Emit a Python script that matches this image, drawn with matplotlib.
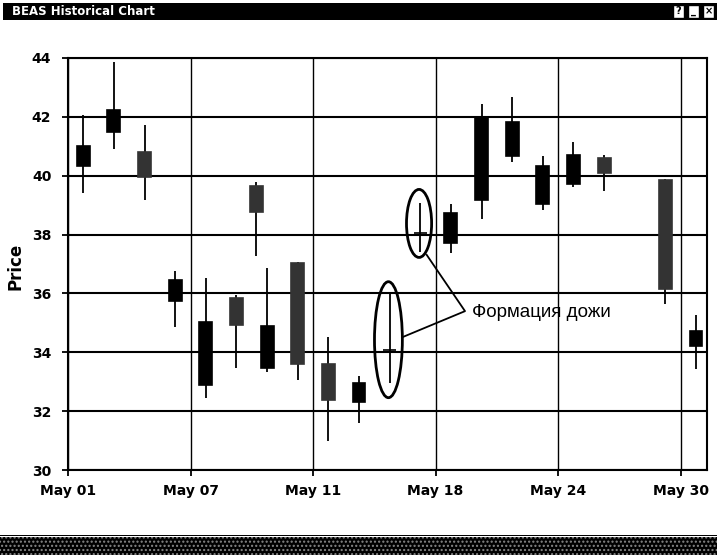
import matplotlib.pyplot as plt
from matplotlib.patches import Ellipse, Rectangle

# trading-day slot of each candle (category axis, 4 slots between labels)
slots = [0, 1, 2, 3, 4, 5, 5.64, 6, 7, 8, 9, 10, 11, 12, 13, 14, 15, 16, 17, 19, 20]
opens = [41.00, 42.24, 39.95, 36.45, 35.03, 34.92, 38.76, 34.89, 33.60, 32.37, 32.95,
         34.08, 38.04, 38.72, 41.95, 41.84, 40.33, 40.70, 40.10, 36.14, 34.72]
closes = [40.32, 41.47, 40.82, 35.76, 32.89, 35.85, 39.64, 33.48, 37.04, 33.60, 32.30,
          34.08, 38.04, 37.72, 39.18, 40.68, 39.03, 39.71, 40.59, 39.85, 34.21]
highs = [42.05, 43.87, 41.73, 36.76, 36.53, 35.95, 39.80, 36.87, 37.07, 34.51, 33.20,
         35.97, 39.06, 39.04, 42.44, 42.69, 40.67, 41.16, 40.70, 39.88, 35.27]
lows = [39.40, 40.90, 39.19, 34.86, 32.46, 33.48, 37.29, 33.33, 33.05, 31.00, 31.59,
        32.97, 37.42, 37.38, 38.52, 40.48, 38.84, 39.63, 39.49, 35.64, 33.42]

tick_slots = [0, 4, 8, 12, 16, 20]
tick_labels = ["May 01", "May 07", "May 11", "May 18", "May 24", "May 30"]
y_ticks = [30, 32, 34, 36, 38, 40, 42, 44]

fig = plt.figure(figsize=(7.17, 5.55), dpi=100)
ax = fig.add_axes([0.0948, 0.153, 0.8913, 0.7425])

xs = [s + 0.5 for s in slots]
ax.vlines(xs, lows, highs, color="black", linewidth=1.3, zorder=3)
for x, o, c in zip(xs, opens, closes):
    col = "#333333" if c > o else "black"
    ax.bar(x, max(abs(c - o), 0.001), bottom=min(o, c), width=0.42,
           color=col, edgecolor=col, linewidth=1.2, zorder=4)

ax.set_xlim(0, 20.86)
ax.set_ylim(30, 44)
ax.set_yticks(y_ticks)
ax.set_yticklabels([str(v) for v in y_ticks], fontweight="bold", fontsize=10)
ax.set_xticks(tick_slots)
ax.set_xticklabels(tick_labels, fontweight="bold", fontsize=10)
ax.tick_params(axis="both", direction="out", length=4, width=1.3, color="black")
ax.tick_params(axis="y", pad=8)
ax.tick_params(axis="x", pad=6)
ax.set_ylabel("Price", fontweight="bold", fontsize=12)
ax.yaxis.set_label_coords(-0.068, 0.495)

for y in y_ticks:
    ax.axhline(y, color="black", linewidth=1.5, zorder=1)
for x in tick_slots:
    ax.axvline(x, color="black", linewidth=1.0, zorder=1)
for sp in ax.spines.values():
    sp.set_linewidth(1.5)

# annotation of the two doji candles
ax.add_patch(Ellipse((10.46, 34.43), 0.91, 3.94, fill=False, edgecolor="black", linewidth=2, zorder=5))
ax.add_patch(Ellipse((11.46, 38.38), 0.82, 2.31, fill=False, edgecolor="black", linewidth=2, zorder=5))
ax.plot([11.71, 12.96, 10.95], [37.31, 35.40, 34.53], color="black", linewidth=1.3, zorder=5)
ax.text(13.2, 35.37, "Формация дожи", fontsize=13.5, va="center", ha="left",
        family=["Liberation Sans", "DejaVu Sans"], zorder=6)

# window title bar and status bar
fig.patches.append(Rectangle((0.004, 1 - 20 / 555), 0.996, 17 / 555, transform=fig.transFigure,
                             facecolor="black", edgecolor="none"))
fig.text(0.017, 1 - 11.5 / 555, "BEAS Historical Chart", color="white", fontweight="bold",
         fontsize=8.5, va="center", ha="left")
for i, ch in enumerate(["?", "_", "×"]):
    fig.patches.append(Rectangle(((673 + i * 15) / 717, 1 - 18 / 555), 11 / 717, 13 / 555,
                                 transform=fig.transFigure, facecolor="white", edgecolor="black"))
    fig.text((678.5 + i * 15) / 717, 1 - 11.5 / 555, ch, fontsize=7, fontweight="bold",
             ha="center", va="center")
fig.patches.append(Rectangle((0, 0), 1, 18 / 555, transform=fig.transFigure,
                             facecolor="black", edgecolor="#888888", hatch="....", linewidth=0))
fig.patches.append(Rectangle((0, 19 / 555), 1, 1.2 / 555, transform=fig.transFigure,
                             facecolor="black", edgecolor="none"))

fig.savefig("out.png", dpi=100)
